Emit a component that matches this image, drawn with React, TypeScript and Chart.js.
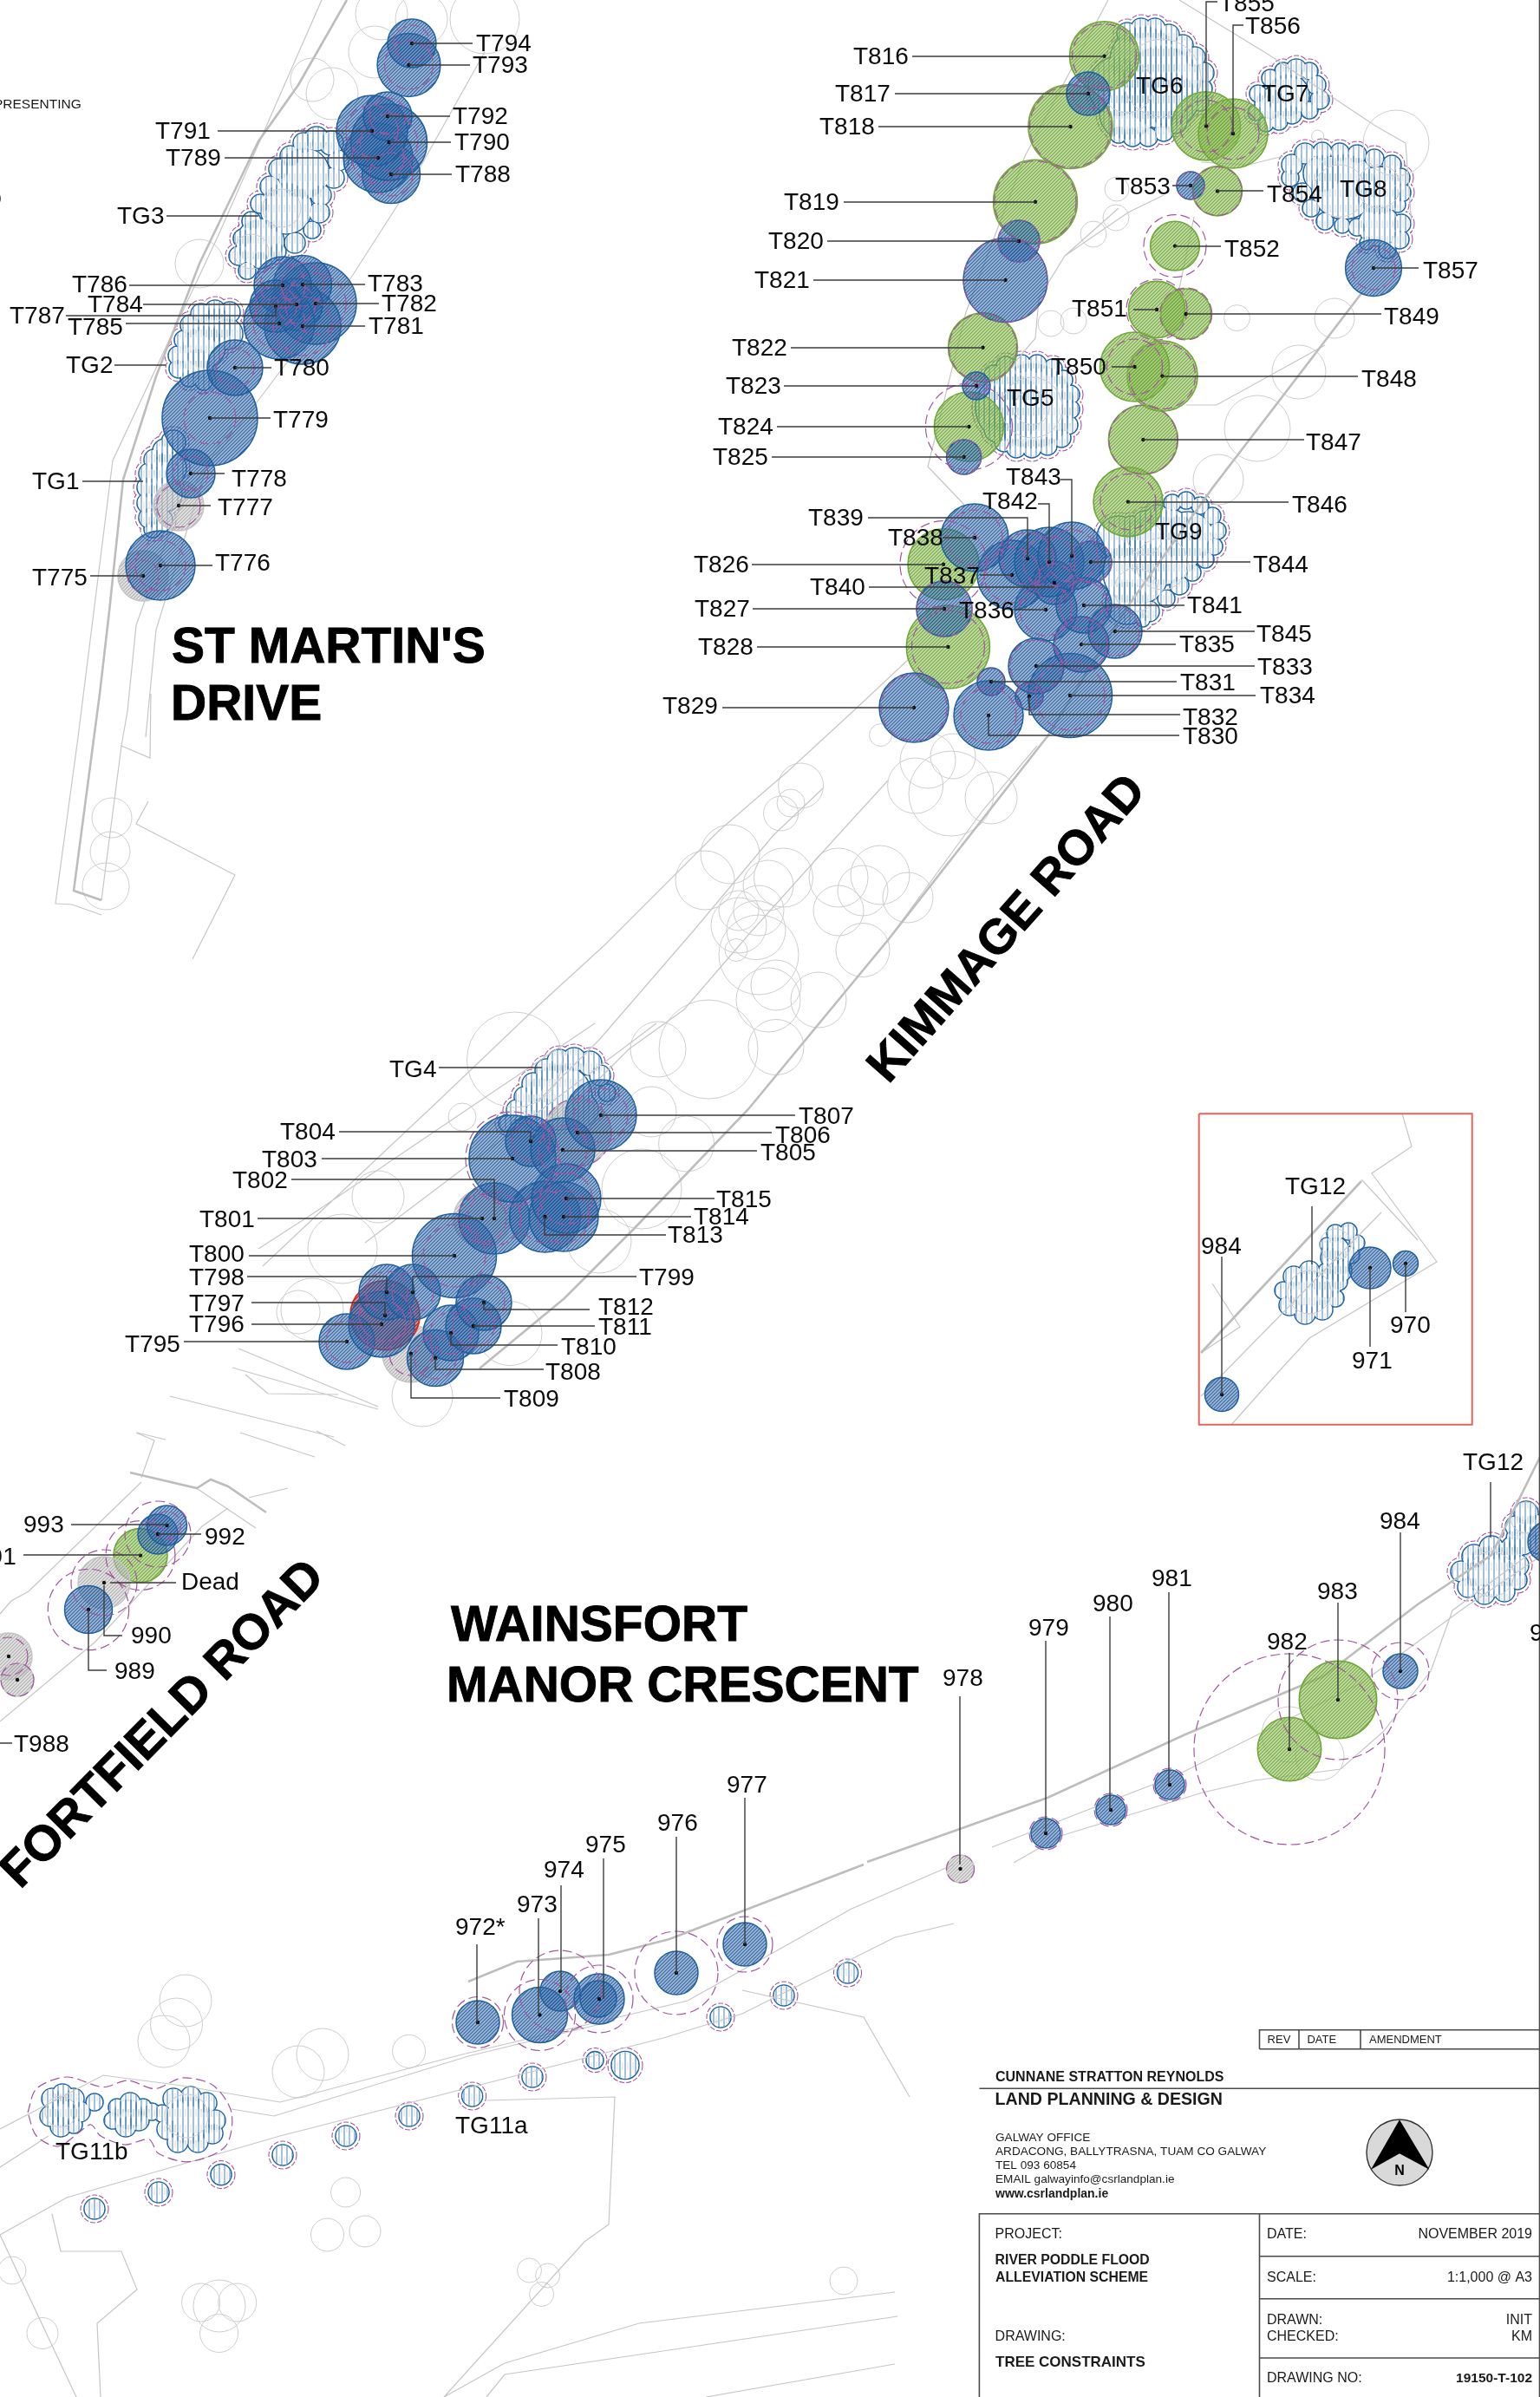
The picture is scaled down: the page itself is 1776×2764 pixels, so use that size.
import React, { useEffect, useRef } from "react";
import { Chart, registerables } from "chart.js";
Chart.register(...registerables);

// ---------- surveyed trees (x / y in sheet units, crown and root-protection radius) ----------
const blueIds = ["T776","T778","T779","T780","T781","T782","T783","T784","T785","T786","T787","T788","T789","T790","T791","T792","T793","T794","T795","T796","T798","T799","T800","T802","T803","T804","T805","T807","T808","T810","T811","T812","T813","T814","T815","T817","T820","T821","T823","T825","T827","T829","T830","T831","T832","T833","T834","T835","T836","T837","T838","T839","T840","T841","T842","T843","T844","T845","T853","T857","972","973","974","975","975b","976","977","979","980","981","984","984i","971","970","971e","992","993","989"];
const blueX = [185,220,242,271,349,364,349,342,322,326,318,451,436,448.5,429,447,471.5,475,400,440,446,476,524,570,591,612,649,693,502,520,546,558,628.5,650,653,1255,1175,1159.5,1126,1111.6,1089,1054,1140,1143,1187,1195,1234,1247,1206,1167,1124,1185,1216,1250,1210,1236,1258,1286,1373,1584,551,622.5,646,691,690,780,859,1206,1281,1349,1615,1409,1580,1621,1786,182,192.5,102];
const blueY = [652,546,482,424,376,350,328,351,373,329,353,201,182,164,151,134,75,50,1547,1527,1490,1490,1448,1405,1336,1316,1326,1286,1566,1537,1529,1502,1403,1403,1382,108,278,323,445,527,702,816,825,786,803,768,802,743,703,663,620,644,672,698,648,641,648,728,214,309,2332,2323.5,2296,2305,2305,2275,2242,2114,2087,2058,1927,1608,1462,1457,1778,1769,1759,1856];
const blueCrown = [40,28,55,32,44,47,33.5,30,41,33,30,33.5,40,44,41,28,36.4,28,32,38,32,32,48.5,41,50,29,37,41,32.5,32,32,32,41,40,40,25,24,48.4,16,20,32,40,40,16,16,32,48.5,32,36,40,39,33,25,32,40,39,24,31,16,32.4,25,32,23,29,21,25,25,17,17,17,20,19.5,24,14.5,24,23,23,27.5];
const blueRpa = [29,20,30,22,34,35,25,22,30,26,24,25,30,33,30,21,28,21,24,28,24,24,36,31,54,22,28,31,24,24,24,24,30,30,30,18,24,48.4,12,20,32,38,32,15,15,30,40,30,30,32,32,30,22,28,30,30,24,28,16,25,29.5,41,47,39,0,48,32,19,19,19,33,0,0,0,0,38,16,46.7];

const greenIds = ["T816","T818","T819","T822","T824","T826","T828","T846","T847","T848","T849","T850","T851","T852","T854","T855","T856","982","983","991"];
const greenX = [1273.5,1234.5,1194,1133.5,1117.4,1088,1093.4,1301,1318.4,1340.5,1367.7,1308.5,1334,1355,1404,1391,1422,1487,1543,162];
const greenY = [64.7,146,232.7,400.7,492,650.7,746,578.6,507,433.6,362,423,357,283.6,220.4,145.4,154,2017,1960,1793.6];
const greenCrown = [40,48.5,48.4,40,40,41,48,40,40,40.6,29,40,32.6,28.3,28.5,39.6,40,36.7,44.7,31];
const greenRpa = [37,47,47,39,50,50,42,32,39.5,38,30,32,35,36,28,30,30,110,69,40];

const greyIds = ["T775","T777","T801","T806","T809","978","Dead","T986","T987"];
const greyX = [165,206,556,666,474,1107.5,120,10,20];
const greyY = [664,583,1405,1306,1561,2155,1825,1910,1937];
const greyCrown = [29,29,33,39,33,16,30,27,19];
const greyRpa = [18,25,28,39,25,16,38,22,19];

const redIds = ["T797"];
const redX = [444];
const redY = [1516.7];
const redCrown = [40];
const redRpa = [30];

// ---------- tree groups: lobes of each hatched group outline ----------
const tg1Lobes = [[200,510,14],[190,520,14],[178,530,12],[172,546,12],[170,562,12],[170,580,12],[172,597,12],[176,610,10],[195,540,20],[190,570,20],[185,600,14]];
const tg2Lobes = [[265,360,12],[248,358,12],[232,362,12],[220,375,12],[212,392,11],[205,410,11],[206,425,11],[218,436,10],[235,440,10],[250,375,20],[235,400,25],[262,385,18],[228,420,18]];
const tg3Lobes = [[382,165,14],[365,160,14],[350,165,12],[335,180,12],[322,195,12],[312,215,12],[300,235,11],[290,255,11],[280,275,11],[275,295,11],[285,312,10],[390,185,12],[385,205,12],[370,225,12],[368,245,12],[360,265,10],[340,280,12],[320,290,10],[300,300,10],[350,200,30],[330,240,30],[300,280,28]];
const tg4Lobes = [[662,1222,14],[645,1224,14],[680,1226,14],[630,1234,13],[692,1240,12],[615,1250,13],[605,1265,12],[596,1280,12],[585,1295,10],[700,1260,10],[645,1265,38],[625,1285,20],[670,1280,20]];
const tg5Lobes = [[1160,422,11],[1178,420,11],[1196,420,11],[1214,425,11],[1226,438,11],[1234,455,11],[1234,472,11],[1232,490,11],[1224,505,11],[1208,514,11],[1190,517,11],[1172,517,11],[1158,510,11],[1146,432,11],[1190,468,50],[1150,470,25],[1150,495,15],[1165,470,40]];
const tg6Lobes = [[1300,38,12],[1316,33,12],[1332,33,12],[1348,40,12],[1364,52,12],[1378,66,12],[1388,84,12],[1388,102,10],[1384,118,10],[1350,115,32],[1320,70,40],[1340,100,48],[1300,130,32],[1290,155,10],[1306,158,11],[1324,158,11],[1342,152,11],[1355,140,14],[1290,100,35]];
const tg7Lobes = [[1495,80,12],[1510,82,10],[1518,98,11],[1522,115,11],[1510,127,10],[1490,132,11],[1475,140,10],[1460,143,9],[1448,130,9],[1451,108,10],[1465,90,10],[1480,82,10],[1485,110,25],[1465,120,18]];
const tg8Lobes = [[1490,190,12],[1505,177,12],[1525,175,11],[1545,176,11],[1565,178,11],[1585,183,11],[1605,190,11],[1615,205,11],[1616,222,11],[1612,236,9],[1616,258,11],[1614,276,11],[1600,288,10],[1576,280,8],[1565,262,10],[1548,260,9],[1528,255,10],[1512,240,10],[1502,222,11],[1488,205,10],[1550,215,38],[1590,220,28],[1590,260,24],[1525,200,22]];
const tg9Lobes = [[1352,580,10],[1368,577,10],[1384,583,10],[1398,595,10],[1404,612,10],[1400,630,10],[1390,645,10],[1375,660,10],[1360,675,11],[1345,690,10],[1325,705,12],[1318,715,8],[1340,630,45],[1310,660,38],[1290,620,25],[1370,620,30],[1300,695,25],[1305,608,13],[1320,602,13],[1335,595,13]];
const tg11bLobes = [[60,2420,12],[72,2415,12],[85,2420,12],[92,2435,12],[85,2450,10],[70,2452,12],[58,2440,12],[73,2435,18],[109,2424,10],[150,2425,12],[135,2430,10],[130,2445,10],[145,2452,12],[160,2445,12],[165,2430,10],[148,2438,18],[175,2435,10],[200,2420,12],[220,2418,12],[238,2425,12],[248,2445,12],[245,2460,12],[228,2470,12],[205,2470,12],[193,2455,12],[187,2437,10],[218,2445,28]];
const tg11aLobes = [[109,2547,12],[183,2528,12],[255,2507.6,12],[326,2485,12],[399,2463,12],[472,2440,12],[544.6,2417,12],[614,2395,12],[686,2375.6,10],[721,2381.5,16],[831,2326,12],[904,2301,12],[977.5,2275,12]];
const tg12Lobes = [[1700,1795,14],[1720,1785,14],[1738,1790,13],[1750,1805,13],[1750,1822,11],[1735,1835,12],[1712,1838,12],[1693,1830,12],[1685,1812,12],[1718,1812,30],[1760,1745,14],[1770,1760,14],[1748,1760,12],[1755,1775,18],[1745,1785,14],[1775,1780,12]];
const tg12InsetLobes = [[1492,1472,12],[1510,1466,12],[1530,1466,10],[1544,1478,10],[1540,1497,10],[1525,1510,12],[1505,1515,12],[1487,1505,12],[1480,1488,10],[1510,1490,26],[1545,1465,14],[1535,1450,12],[1540,1422,10],[1555,1420,10],[1565,1433,9],[1558,1447,10],[1540,1442,16],[1530,1435,8],[1548,1460,10],[1530,1480,18]];
const tg11bRpaOutline = [32,2436,42,2408.5,77,2395,119,2406.6,147,2399,179,2408.5,210.5,2396,245.6,2404.6,267,2436,260,2475,217.5,2492.7,182.5,2483,172,2467,144,2473,116,2463,105,2450,91,2459,67,2475,42,2463,32,2436];

// ---------- background survey: tree canopies that are not assessed ----------
const surveyCanopies = [[129,943,23],[127,982,23],[122,1022,27],[923.6,906,26],[900.6,938,20],[912,926,16],[842,985,34],[813,1015,34],[903.5,1012,34],[875,1050,29],[852,1050,23],[886,1021,29],[872,1072.6,34],[852,1067,32],[875,1101,46],[849,1095.5,13],[895,1136,29],[886,1153,37],[944,1153,32],[895,1207.5,32],[967,1050,29],[967,1012,34],[1015,1009,34],[995,1027,29],[1047,1035,29],[995,1095.5,31],[817,1210,57],[759,1210,32],[751,1282,29],[791.6,1319,32],[740,1371,46],[593.5,1222,55],[533,1288,16],[691,1431,37],[1055.6,906,32],[1097,915,49],[1143,920,30],[1070,877,32],[1099,872,26],[1015.5,847.6,13],[588,1537.6,37],[360,1510,36],[436,1380,30],[395,1440,40],[344,1513,25],[487,1610,35],[440,16,30],[486,22,30],[559,22,40],[383,108,30],[360,92,25],[432,60,30],[230,304,28],[1610,165,38],[1539,367,23],[1498,429,31],[1450,494,38],[1405,553,29],[1426.5,366.6,15],[1288,218,14],[1287,251,15],[1261,270,15],[1212,373,15],[1238,370,15],[1519.6,157,7],[203.5,2334,30],[214,2307,30],[189,2354,30],[344,2389,30],[372,2369,30],[471.6,2365.4,19],[398.6,2528,17],[377.5,2577,19],[421,2573,18],[610.5,2618,14],[631.6,2624,14],[624.6,2645.5,14],[973,2630,16],[253,2659,30],[231.6,2655,22],[273.7,2655,22],[252.6,2690.5,22],[49,2690.5,18],[14,2618,16],[1522,2025,28],[1487,2000,32],
  [1190,470,35],[1190,470,20],[1340,90,45],[1300,100,30],[1545,220,30],[1590,215,25],[1340,650,30],[1320,620,20],[1310,680,25],[1510,1490,25],[1540,1435,18],[1720,1815,26],[1760,1750,18],[215,2440,25],[70,2435,18],[325,240,22],[290,290,20]];

const thinRoads = [
  [371,0,252,271,130,531,90,850,64,1042,83,1043,117,1055],
  [559,60,471,217,405,320,237,542,180,726,168,850],
  [268,488,200,600,157,721,147,820,140,860,117,1038],
  [171,924,157,950,271,1009,222,1106],
  [174,800,173,874,140,860],
  [1278,0,1182,180,1114,360,1070,538,1112,582],
  [1290,240,1228,295,1198,344,1194,390,1171,417],
  [1228,295,1301,245,1342,225],
  [1377,250,1360,333],
  [1385,187,1440,190,1480,180],
  [1368,467,1403,467,1528,398],
  [1621,165,1628,260],
  [1360,0,1463,63,1586,145,1621,165],
  [949,909,892,963,800,1073,691,1199,622,1268],
  [1024,900,961,969,863,1078,789,1164,725,1210,662,1273],
  [1196,860,1133,935,1024,1084],
  [1048,760,984,820,909,889,829,958,697,1090,616,1164,507,1268,303,1460],
  [686,1180,360,1400,298,1440],
  [757,1180,548,1337,421,1433],
  [196,1610,385,1657],
  [158,1652,191,1660],
  [283,1585,309,1607,390,1608],
  [275,1555,436,1622],
  [268,1577,436,1625],
  [277,1652,363,1680],
  [365,1650,398,1667],
  [228,1717,295,1762],
  [157,1652,178,1661,163,1704],
  [163,1709,33,1835,13,1846,0,1861],
  [0,1985,110,1893,233,1760,263,1739],
  [287,1727,332,1716],
  [1144,2130,1357,2047,1571,1940,1690,1853,1776,1795],
  [1169,2148,1223,2117,1387,2067,1447,2053,1546,2040,1595,1997,1650,1927,1675,1857,1776,1783],
  [0,2577,77,2534,323,2463,765,2350,856,2322,1032,2234,1100,2218],
  [0,2455,119,2393,210,2405,323,2424,533,2369,793,2307,982,2201,1100,2150],
  [0,2499,56,2463],
  [267,2432,316,2440,540,2371,709,2330],
  [561,2422,709,2418,702,2565,674,2585,512,2764],
  [856,2295,996,2326,1049,2418],
  [1032,2643,737,2679,582,2725,512,2764],
  [1035,2671,582,2738,561,2764],
  [1032,2726,814,2764],
  [0,2577,88,2764],
  [60,2553,70,2596,140,2596,158,2640,112,2679,116,2764],
  [1398,1480,1430,1530,1385,1560],
  [1385,1610,1593,1398],
  [1420,1643,1467,1590,1510,1543,1657,1455,1582,1353,1628,1322,1617,1284],
  [1570,1360,1635,1430],
];
const thickRoads = [
  [400,0,344,98,298,163,230,304,180,434,142,553,126,705,115,800,85,1027,117,1038],
  [1571,337,1398,563,1300,700,1208,849,1168,900,1024,1084,863,1279,731,1417,651,1497,553,1578],
  [150,1698,227,1716,243,1706,263,1714,307,1744],
  [1000,2147,1208,2073,1367,2000,1526,1933,1635,1850,1720,1793,1776,1680],
  [540,2285,596,2262,702,2254,772,2236,996,2150],
  [1385,1560,1570,1362],
];

// ---------- leader lines ----------
const leaderPaths = [
  [475,50,545,50],[471.5,75,542,75],[447,134,519,134],[251,151,429,151],[448.5,164,520,164],[259,182,436,182],[451,201,521,201],[192,249,298,249],
  [149,329,326,329],[349,328,421,328],[165,351,342,351],[364,350,437,350],[76,364,318,364,318,353],[145,373,322,373],[349,376,421,376],[271,424,313,424],[132,421,191,421],[242,482,312,482],[220,546,259,546],[95,555,165,555],[206,583,243,583],[185,652,245,652],[104,664,165,664],
  [1391,145,1391,2,1404,2],[1422,154,1422,29,1434,29],[1052,65,1273,65],[1032,108,1255,108],[1013,146,1234,146],[1352,214,1373,214],[1404,220,1457,220],[973,233,1194,233],[954,278,1175,278],[1355,284,1408,284],[1584,309,1636,309],[938,323,1159,323],[1307,357,1334,357],[1368,362,1593,362],[912,401,1133,401],[1282,423,1308,423],[1340,434,1566,434],[904,445,1126,445],[896,492,1117,492],[1318,507,1504,507],[890,527,1112,527],
  [1223,553,1236,553,1236,641],[1197,581,1210,581,1210,648],[1301,579,1486,579],[1001,597,1185,597,1185,644],[1087,620,1124,620],[1258,648,1442,648],[867,651,1088,651],[1130,663,1167,663],[1002,677,1216,677],[1250,698,1366,698],[868,702,1089,702],[1171,703,1206,703],[1286,728,1447,728],[1247,743,1356,743],[873,746,1093,746],[1195,768,1447,768],[1143,786,1357,786],[1234,802,1448,802],[833,816,1054,816],[1187,803,1187,824,1361,824],[1140,825,1140,848,1360,848],
  [506,1231,625,1231],[693,1286,917,1286],[391,1305,612,1305,612,1316],[666,1306,890,1306],[649,1327,873,1327],[371,1336,591,1336],[336,1360,570,1360,570,1405],[653,1382,824,1382],[650,1403,797,1403],[297,1405,556,1405],[628,1403,628,1424,768,1424],[287,1448,524,1448],[476,1490,476,1472,734,1472],[285,1472,446,1472,446,1490],[290,1502,444,1502,444,1517],[558,1502,558,1510,680,1510],[290,1527,440,1527],[546,1529,686,1529],[212,1547,400,1547],[520,1537,520,1551,643,1551],[502,1566,502,1579,627,1579],[474,1561,474,1612,577,1612],
  [82,1758,193,1758],[182,1769,232,1769],[27,1793,162,1793],[127,1825,203,1825],[120,1828,120,1886,141,1886],[102,1856,102,1926,123,1926],[0,2010,14,2010],
  [1615,1767,1615,1927],[1719,1709,1719,1773],[1543,1848,1543,1960],[1487,1906,1487,2017],[1348,1836,1348,2058],[1280,1864,1280,2087],[1206,1892,1206,2113],[1107,1956,1107,2150],[859,2073,859,2242],[780,2118,780,2275],[696,2143,696,2305],[647,2174,647,2296],[621,2212,621,2323],[550,2242,550,2332],
  [1409,1449,1409,1608],[1513,1391,1513,1458],[1580,1462,1580,1553],[1621,1457,1621,1513],
];

// ---------- labels ----------
const labelText = ["T794","T793","T792","T791","T790","T789","T788","TG3","T786","T783","T784","T782","T787","T785","T781","T780","TG2","T779","T778","TG1","T777","T776","T775",
  "T855","T856","T816","T817","TG6","TG7","T818","TG8","T853","T854","T819","T820","T852","T857","T821","T851","T849","T822","T850","T848","T823","TG5","T824","T847","T825","T843","T842","T846","T839","TG9","T838","T844","T826","T837","T840","T841","T827","T836","T845","T835","T828","T833","T831","T834","T829","T832","T830",
  "TG4","T807","T804","T806","T805","T803","T802","T815","T814","T801","T813","T800","T799","T798","T797","T812","T796","T811","T795","T810","T808","T809",
  "993","992","991","Dead","990","989","T988",
  "984","TG12","983","982","981","980","979","978","977","976","975","974","973","972*","TG11b","TG11a","971",
  "984","TG12","971","970"];
const labelX = [549,545,522,179,524,191,525,135,83,424,101,440,11,78,425,316,76,315,267,37,251,248,37,
  1406,1436,984,963,1310,1455,945,1545,1286,1461,904,886,1412,1641,870,1236,1596,844,1212,1570,837,1161,828,1506,822,1160,1133,1490,932,1332,1024,1445,800,1066,934,1369,801,1106,1449,1360,805,1450,1361,1453,764,1364,1364,
  449,921,323,894,877,302,268,826,800,230,770,218,737,218,218,690,218,690,144,647,629,581,
  27,236,-28,209,151,132,16,
  1591,1687,1519,1461,1328,1260,1186,1087,838,758,675,627,596,525,64,525,1764,
  1385,1482,1559,1603];
const labelY = [50,75,134,151,164,182,201,249,328,327,351,350,364,377,376,424,421,484,552,555,585,649,666,
  4,30,65,108,99,108,146,218,215,224,233,278,287,312,323,356,365,401,423,437,445,459,492,510,527,550,578,582,597,613,620,651,651,664,677,698,702,704,731,743,746,769,787,802,814,827,849,
  1233,1287,1305,1309,1329,1337,1361,1383,1403,1406,1424,1446,1473,1473,1503,1507,1527,1530,1550,1553,1582,1613,
  1758,1772,1795,1824,1886,1927,2011,
  1754,1686,1835,1893,1820,1849,1877,1935,2058,2102,2127,2156,2196,2222,2481,2451,1883,
  1437,1368,1569,1528];

const roadNames = ["ST MARTIN'S","DRIVE","WAINSFORT","MANOR CRESCENT"];
const roadNameX = [198,197,520,515];
const roadNameY = [748,814,1876,1946];
const rotatedNames = ["KIMMAGE ROAD","FORTFIELD ROAD"];
const rotatedX = [1174,200];
const rotatedY = [1082,2000];
const rotatedDeg = [-48.5,-45.4];
const rotatedSize = [56,57];

// ---------- title block ----------
const sheetLines = [
  [1775.5,0,1775.5,2764],
  [1452.5,2362.7,1452.5,2340.7,1775.5,2340.7],[1452.5,2362.7,1775.5,2362.7],[1498,2340.7,1498,2362.7],[1569,2340.7,1569,2362.7],
  [1129.4,2408.3,1775.5,2408.3],
  [1129.4,2764,1129.4,2552.7,1775.5,2552.7],[1452.5,2552.7,1452.5,2764],
  [1452.5,2601.7,1775.5,2601.7],[1452.5,2650.7,1775.5,2650.7],[1452.5,2719,1775.5,2719],
];
const insetFrame = [1382.7,1284.3,1697.7,1284.3,1697.7,1642.7,1382.7,1642.7,1382.7,1284.3];
const sheetText = ["REV","DATE","AMENDMENT","GALWAY OFFICE","ARDACONG, BALLYTRASNA, TUAM CO GALWAY","TEL 093 60854","EMAIL galwayinfo@csrlandplan.ie","PROJECT:","DRAWING:","DATE:","SCALE:","DRAWN:","CHECKED:","DRAWING NO:","PRESENTING",")"];
const sheetTextX = [1461.6,1507.4,1579,1148,1148,1148,1148,1147.6,1147.6,1461,1461,1461,1461,1461,-7,-3];
const sheetTextY = [2352,2352,2352,2465,2481,2497.7,2513,2577,2694.7,2577,2626.7,2675.7,2694.7,2743,121,229];
const sheetTextSize = [13,13,13,13.6,13.6,13.6,13.6,16,16,16,16,16,16,16,15.5,14];
const sheetBold = ["CUNNANE STRATTON REYNOLDS","LAND PLANNING & DESIGN","www.csrlandplan.ie","RIVER PODDLE FLOOD","ALLEVIATION SCHEME","TREE CONSTRAINTS"];
const sheetBoldX = [1148,1147.6,1148,1147.6,1148,1148];
const sheetBoldY = [2395.7,2422,2530,2607,2626.7,2724];
const sheetBoldSize = [16,19.6,14,15.8,15.8,17];
const sheetRight = ["NOVEMBER 2019","1:1,000 @ A3","INIT","KM"];
const sheetRightY = [2577,2626.7,2675.7,2694.7];
const northCircle = [{ x: 1614, y: 2482, r: 38 }];
const northArrow = [1614,2444.3,1648.4,2501.7,1614,2483.3,1581,2501.7];

// ---------- drawing helpers ----------
const SANS = '"Liberation Sans", Arial, sans-serif';
function diagonalHatch(line: string, back: string) {
  const c = document.createElement("canvas");
  c.width = 4; c.height = 4;
  const g = c.getContext("2d")!;
  g.fillStyle = back; g.fillRect(0, 0, 4, 4);
  g.strokeStyle = line; g.lineWidth = 1.2;
  g.beginPath();
  g.moveTo(-1, 1); g.lineTo(1, -1);
  g.moveTo(-1, 5); g.lineTo(5, -1);
  g.moveTo(3, 5); g.lineTo(5, 3);
  g.stroke();
  return g.createPattern(c, "repeat")!;
}
function verticalHatch() {
  const c = document.createElement("canvas");
  c.width = 6; c.height = 18;
  const g = c.getContext("2d")!;
  g.strokeStyle = "rgba(36,104,168,0.75)"; g.lineWidth = 1.1;
  g.beginPath(); g.moveTo(1, 0); g.lineTo(1, 18); g.stroke();
  g.strokeStyle = "rgba(70,130,185,0.25)"; g.lineWidth = 1;
  g.beginPath(); g.moveTo(4, 2); g.lineTo(4, 11); g.stroke();
  return g.createPattern(c, "repeat")!;
}
const points = (xs: number[], ys: number[], rs: number[], grow = 0) =>
  xs.map((x, i) => ({ x, y: ys[i], r: Math.max(rs[i] + grow, 0) }));
const lobes = (rows: number[][], grow = 0) => rows.map(([x, y, r]) => ({ x, y, r: r + grow }));
function paths(list: number[][]) {
  const out: any[] = [];
  list.forEach((p) => {
    for (let i = 0; i < p.length; i += 2) out.push({ x: p[i], y: p[i + 1] });
    out.push({ x: null, y: null });
  });
  return out;
}

export default function App() {
  const ref = useRef<HTMLCanvasElement>(null);
  useEffect(() => {
    document.body.style.margin = "0";
    const allRpaLobes = [tg1Lobes, tg2Lobes, tg3Lobes, tg4Lobes, tg5Lobes, tg6Lobes, tg7Lobes, tg8Lobes, tg9Lobes, tg11aLobes, tg12Lobes].flat();
    const allLobes = [...allRpaLobes, ...tg11bLobes, ...tg12InsetLobes];
    const rpaRings = [
      ...points(blueX, blueY, blueRpa), ...points(greenX, greenY, greenRpa),
      ...points(greyX, greyY, greyRpa), ...points(redX, redY, redRpa),
    ].filter((p) => p.r > 0);
    const dots = [
      ...blueX.map((x, i) => ({ x, y: blueY[i], r: blueIds[i] === "975b" ? 0 : 2.2 })),
      ...greenX.map((x, i) => ({ x, y: greenY[i], r: 2.2 })),
      ...greyX.map((x, i) => ({ x, y: greyY[i], r: 2.2 })),
      ...redX.map((x, i) => ({ x, y: redY[i], r: 2.2 })),
    ];
    const PURPLE = "#a4559f";
    const bubble = (data: any[], backgroundColor: any, borderColor: any, borderWidth: number, dash?: number[]) =>
      ({ type: "bubble", data, backgroundColor, borderColor, borderWidth, dash, clip: false });
    const line = (data: any[], borderColor: string, borderWidth: number, extra: any = {}) =>
      ({ type: "line", data, borderColor, borderWidth, pointRadius: 0, fill: false, spanGaps: false, clip: false, ...extra });

    const stack: any[] = [
      bubble(lobes(allRpaLobes, 4), "transparent", PURPLE, 1.1, [6, 2]),
      bubble(lobes(allRpaLobes, 3), "#ffffff", "transparent", 0),
      bubble(lobes(allLobes), "transparent", "#1f64a8", 1.6),
      bubble(lobes(allLobes, -0.8), "#ffffff", "transparent", 0),
      bubble(lobes(allLobes, -0.8), verticalHatch(), "transparent", 0),
      bubble(lobes(surveyCanopies), "transparent", "#cdcdcd", 1),
      line(paths(thinRoads), "#c6c6c6", 1.2),
      line(paths(thickRoads), "#bdbdbd", 2.6),
      line(paths([tg11bRpaOutline]), PURPLE, 1.2, { borderDash: [11, 5], tension: 0.3 }),
      bubble(points(greenX, greenY, greenCrown), diagonalHatch("rgba(104,158,44,0.78)", "rgba(146,194,96,0.55)"), "#6fa839", 1.6),
      bubble(points(greyX, greyY, greyCrown), diagonalHatch("rgba(150,150,150,0.65)", "rgba(205,205,205,0.55)"), "#c4c4c4", 1.4),
      bubble(points(redX, redY, redCrown), diagonalHatch("rgba(150,20,40,0.8)", "rgba(170,50,60,0.5)"), "#dc2a18", 1.8),
      bubble(points(blueX, blueY, blueCrown), diagonalHatch("rgba(22,78,146,0.78)", "rgba(72,122,180,0.5)"), "#1f5f9f", 1.5),
      bubble(rpaRings, "transparent", PURPLE, 1.2, [11, 5]),
      bubble(dots, "#111111", "#111111", 0),
      line(paths(leaderPaths), "#3c3c3c", 1.4),
      line(paths(sheetLines), "#4a4a4a", 1.6),
      line(paths([insetFrame]), "#e2655c", 2),
      bubble(northCircle, "#d9d9d9", "#333333", 1.4),
    ];
    stack.forEach((d, i) => { d.order = stack.length - i; });

    const chart = new Chart(ref.current!, {
      type: "bubble",
      data: { datasets: stack },
      options: {
        animation: false,
        responsive: false,
        devicePixelRatio: 1,
        events: [],
        layout: { padding: 0, autoPadding: false },
        scales: {
          x: { type: "linear", min: 0, max: 1776, display: false },
          y: { type: "linear", min: 0, max: 2764, reverse: true, display: false },
        },
        plugins: { legend: { display: false }, tooltip: { enabled: false } },
      },
      plugins: [
        {
          id: "ringDash",
          beforeDatasetDraw(c: any, args: any) {
            c.ctx.setLineDash(c.data.datasets[args.index].dash || []);
          },
          afterDatasetDraw(c: any) {
            c.ctx.setLineDash([]);
          },
        },
        {
          id: "sheetText",
          afterDatasetsDraw(c: any) {
            const g = c.ctx;
            const px = (v: number) => c.scales.x.getPixelForValue(v);
            const py = (v: number) => c.scales.y.getPixelForValue(v);
            g.save();
            // north arrow
            g.fillStyle = "#000";
            g.beginPath();
            for (let i = 0; i < northArrow.length; i += 2) {
              const f = i === 0 ? "moveTo" : "lineTo";
              g[f](px(northArrow[i]), py(northArrow[i + 1]));
            }
            g.closePath(); g.fill();
            g.textBaseline = "middle";
            g.textAlign = "center";
            g.font = `bold 16px ${SANS}`;
            g.fillText("N", px(1614), py(2504));
            g.textAlign = "left";
            // tree labels
            g.fillStyle = "#0c0c0c";
            g.font = `28px ${SANS}`;
            labelText.forEach((t, i) => g.fillText(t, px(labelX[i]), py(labelY[i]) + 1.5));
            // road names
            g.fillStyle = "#000";
            g.strokeStyle = "#000";
            g.lineWidth = 0.9;
            g.font = `bold 57px ${SANS}`;
            roadNames.forEach((t, i) => {
              g.fillText(t, px(roadNameX[i]), py(roadNameY[i]));
              g.strokeText(t, px(roadNameX[i]), py(roadNameY[i]));
            });
            rotatedNames.forEach((t, i) => {
              g.save();
              g.translate(px(rotatedX[i]), py(rotatedY[i]));
              g.rotate((rotatedDeg[i] * Math.PI) / 180);
              g.textAlign = "center";
              g.textBaseline = "alphabetic";
              g.font = `bold ${rotatedSize[i]}px ${SANS}`;
              g.fillText(t, 0, 0);
              g.strokeText(t, 0, 0);
              g.restore();
            });
            // title block
            g.fillStyle = "#1a1a1a";
            sheetText.forEach((t, i) => {
              g.font = `${sheetTextSize[i]}px ${SANS}`;
              g.fillText(t, px(sheetTextX[i]), py(sheetTextY[i]));
            });
            sheetBold.forEach((t, i) => {
              g.font = `bold ${sheetBoldSize[i]}px ${SANS}`;
              g.fillText(t, px(sheetBoldX[i]), py(sheetBoldY[i]));
            });
            g.textAlign = "right";
            g.font = `16px ${SANS}`;
            sheetRight.forEach((t, i) => g.fillText(t, px(1767), py(sheetRightY[i])));
            g.font = `bold 15.5px ${SANS}`;
            g.fillText("19150-T-102", px(1767), py(2743));
            g.restore();
          },
        },
      ],
    } as any);
    return () => chart.destroy();
  }, []);
  return (
    <div style={{ position: "relative", width: 1776, height: 2764, background: "#fff", overflow: "hidden" }}>
      <canvas ref={ref} width={1776} height={2764} style={{ display: "block", width: 1776, height: 2764 }} />
    </div>
  );
}
